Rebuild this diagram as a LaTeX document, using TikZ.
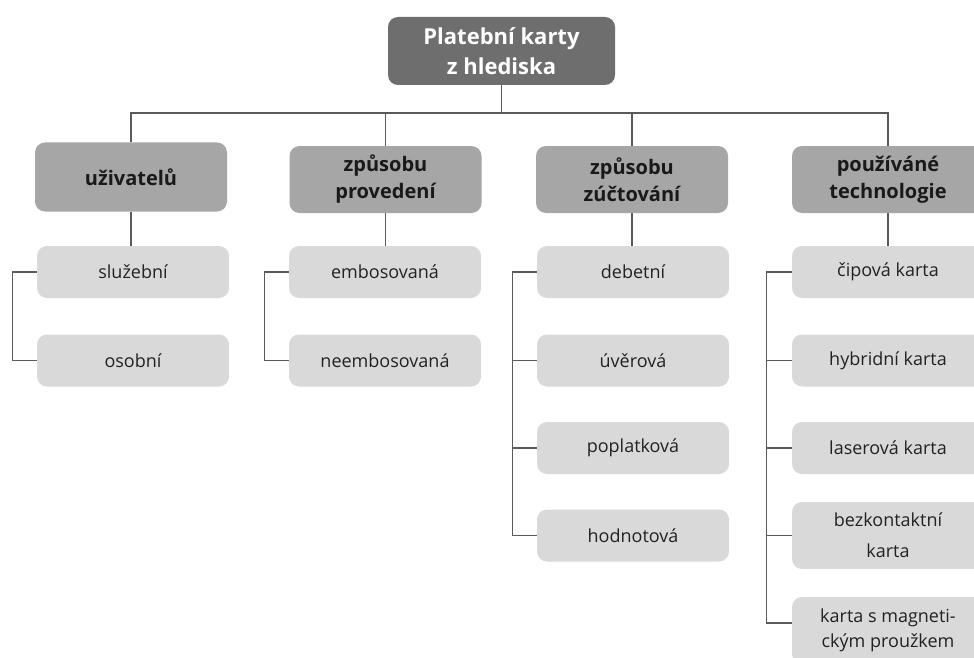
\documentclass[tikz,border=0pt]{standalone}
\usepackage{fontspec}
\setmainfont{Open Sans}
\definecolor{topgray}{HTML}{6E6E6E}
\definecolor{catgray}{HTML}{A6A6A6}
\definecolor{leafgray}{HTML}{D9D9D9}
\definecolor{linegray}{HTML}{5A5A5A}
\definecolor{txtdark}{HTML}{222222}
\tikzset{
  topbox/.style={fill=topgray, text=white, font=\bfseries\fontsize{22}{30}\selectfont,
    rounded corners=10pt, minimum width=227pt, minimum height=68pt, align=center, inner sep=0pt},
  catbox/.style={fill=catgray, text=black!90, font=\bfseries\fontsize{20}{27}\selectfont,
    rounded corners=10pt, minimum width=192pt, minimum height=67pt, align=center, inner sep=0pt},
  leafbox/.style={fill=leafgray, text=txtdark, font=\fontsize{18}{25}\selectfont,
    rounded corners=10pt, minimum width=192pt, minimum height=52pt, align=center, inner sep=0pt},
  conn/.style={draw=linegray, line width=1.3pt},
}
\begin{document}
\begin{tikzpicture}[x=1pt,y=-1pt]
\clip (0,0) rectangle (974,658);
\fill[white] (0,0) rectangle (974,658);

\node[topbox] (T) at (501.5,51) {Platební karty\\z hlediska};

\node[catbox, minimum height=69pt] (C1) at (131,177) {uživatelů};
\node[catbox] (C2) at (385.5,179.5) {způsobu\\provedení};
\node[catbox] (C3) at (632,179.5) {způsobu\\zúčtování};
\node[catbox] (C4) at (888,179.5) {používáné\\technologie};

\node[leafbox] (L11) at (133,272) {služební};
\node[leafbox] (L12) at (133,360.5) {osobní};

\node[leafbox] (L21) at (385,272) {embosovaná};
\node[leafbox] (L22) at (385,360.5) {neembosovaná};

\node[leafbox] (L31) at (633,272) {debetní};
\node[leafbox] (L32) at (633,360.5) {úvěrová};
\node[leafbox] (L33) at (633,448) {poplatková};
\node[leafbox] (L34) at (633,535.5) {hodnotová};

\node[leafbox] (L41) at (888,272) {čipová karta};
\node[leafbox] (L42) at (888,360.5) {hybridní karta};
\node[leafbox] (L43) at (888,448) {laserová karta};
\node[leafbox, minimum height=67pt, font=\fontsize{18}{31}\selectfont] (L44) at (888,535.5) {bezkontaktní\\karta};
\node[leafbox, minimum height=67pt] (L45) at (888,630.5) {karta s magneti-\\ckým proužkem};

\coordinate (bus) at (501.5,113);
\draw[conn] (T.south) -- (bus);
\draw[conn] (C1.north) |- (bus) -| (C4.north);
\draw[conn] (bus) -| (C2.north);
\draw[conn] (bus) -| (C3.north);

\draw[conn] (C1.south) -- (C1.south |- L11.north);
\draw[conn] (C2.south) -- (C2.south |- L21.north);
\draw[conn] (C3.south) -- (C3.south |- L31.north);
\draw[conn] (C4.south) -- (C4.south |- L41.north);

\draw[conn] (L11.west) -- ++(-24,0) |- (L12.west);
\draw[conn] (L21.west) -- ++(-24,0) |- (L22.west);
\draw[conn] (L31.west) -- ++(-24,0) |- (L34.west);
\draw[conn] (L32.west) -- ++(-24,0);
\draw[conn] (L33.west) -- ++(-24,0);
\draw[conn] (L41.west) -- ++(-25,0) |- ([yshift=7.5pt]L45.west);
\draw[conn] (L42.west) -- ++(-25,0);
\draw[conn] (L43.west) -- ++(-25,0);
\draw[conn] (L44.west) -- ++(-25,0);
\end{tikzpicture}
\end{document}
